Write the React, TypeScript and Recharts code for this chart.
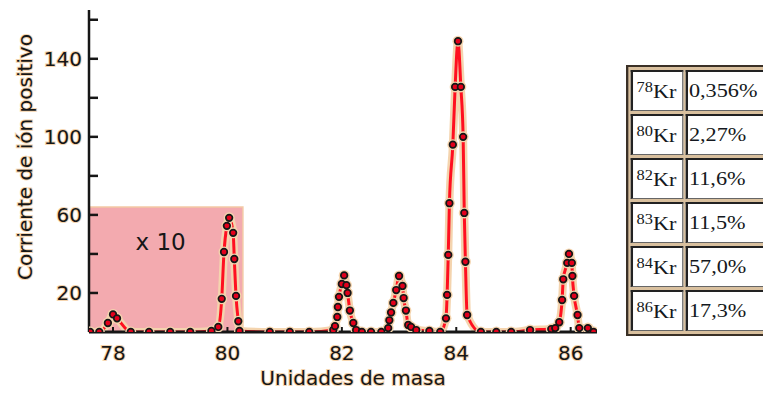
import React from "react";
import { LineChart, Line, XAxis, YAxis, ReferenceArea, Label } from "recharts";

// mass (u) and ion current
const MASS = [
  77.6, 77.76, 77.91, 78.0, 78.07, 78.31, 78.63, 79.0, 79.35, 79.72, 79.84, 79.9, 79.94, 79.99, 80.03,
  80.1, 80.12, 80.15, 80.19, 80.21, 80.74, 81.09, 81.43, 81.85, 81.88, 81.92, 81.93, 81.95, 82.0, 82.04,
  82.08, 82.1, 82.14, 82.2, 82.25, 82.35, 82.51, 82.69, 82.81, 82.83, 82.86, 82.9, 82.95, 83.0, 83.06,
  83.08, 83.12, 83.16, 83.21, 83.3, 83.53, 83.72, 83.82, 83.84, 83.86, 83.88, 83.94, 83.98, 84.03, 84.08,
  84.12, 84.14, 84.16, 84.19, 84.43, 84.7, 84.96, 85.29, 85.66, 85.73, 85.8, 85.85, 85.87, 85.94, 85.97,
  86.02, 86.03, 86.06, 86.12, 86.15, 86.3, 86.4,
];
const CURRENT = [
  0, 0, 4.6, 9, 7, 0, 0, 0, 0, 0.5, 2.6, 17, 41, 54.4, 58.5,
  50.8, 37.4, 18.5, 5.5, 0.5, 0, 0, 0, 1, 3, 7.7, 12.8, 18, 24.6, 29,
  24, 20, 11, 4.6, 1, 0, 0, 0, 2, 6, 10, 14.9, 21.5, 28.7, 23.6,
  17.4, 11, 3.6, 2.6, 1, 0.5, 0, 7, 19, 39.5, 66, 96, 125.6, 149, 125.6,
  100, 61, 36, 8.7, 0, 0, 0, 1, 1.5, 2, 5, 16.4, 27, 35.4, 40,
  35.4, 28.7, 18.5, 8.7, 2, 2, 0,
];

const X_TICKS = [78, 80, 82, 84, 86];
const Y_TICKS = [20, 40, 60, 80, 100, 120, 140, 160];
const Y_LABELED = [20, 60, 100, 140];

// region shown magnified x10
const ZOOM_FROM = 77.58;
const ZOOM_TO = 80.27;
const ZOOM_TOP = 64;

const ISOTOPES = ["78", "80", "82", "83", "84", "86"];
const ABUNDANCE = ["0,356%", "2,27%", "11,6%", "11,5%", "57,0%", "17,3%"];

const data = MASS.map((m, i) => ({ mass: m, current: CURRENT[i] }));

const SANS = '"DejaVu Sans", sans-serif';
const GLOW = "#f4d4ae";
const INK = "#161616";

const YTick = (props: any) => {
  const { x, y, payload } = props;
  return (
    <g>
      <line x1={x + 7} x2={x + 16} y1={y} y2={y} stroke={INK} strokeWidth={2.5} />
      {Y_LABELED.includes(payload.value) && (
        <text
          x={x}
          y={y}
          textAnchor="end"
          dominantBaseline="central"
          fontFamily={SANS}
          fontSize={20}
          fill={INK}
          stroke={GLOW}
          strokeWidth={2}
          paintOrder="stroke"
        >
          {payload.value}
        </text>
      )}
    </g>
  );
};

const XTick = (props: any) => {
  const { x, y, payload } = props;
  return (
    <g>
      <line x1={x} x2={x} y1={y - 13} y2={y - 18} stroke={INK} strokeWidth={2} />
      <text
        x={x}
        y={y}
        dy="0.73em"
        textAnchor="middle"
        fontFamily={SANS}
        fontSize={20}
        fill={INK}
        stroke={GLOW}
        strokeWidth={2}
        paintOrder="stroke"
      >
        {payload.value}
      </text>
    </g>
  );
};

const cellBase: React.CSSProperties = {
  background: "#fff",
  borderTop: "2px solid #222",
  borderLeft: "2px solid #222",
  borderRight: "1px solid #666",
  borderBottom: "1px solid #666",
  height: 41,
  boxSizing: "border-box",
  padding: "0 2px",
  whiteSpace: "nowrap",
  verticalAlign: "middle",
  color: "#141820",
};

export default function App() {
  return (
    <div
      style={{
        position: "absolute",
        left: 0,
        top: 0,
        width: 763,
        height: 394,
        overflow: "hidden",
        background: "#fff",
      }}
    >
      <LineChart width={600} height={394} data={data} margin={{ top: 10, right: 3, bottom: 0, left: 0 }}>
        <ReferenceArea
          x1={ZOOM_FROM}
          x2={ZOOM_TO}
          y1={0}
          y2={ZOOM_TOP}
          fill="#f3aaaf"
          fillOpacity={1}
          stroke="#f3c9a5"
          strokeWidth={1.5}
          label={
            <Label
              content={({ viewBox }: any) => (
                <text
                  x={viewBox.x + viewBox.width * 0.465}
                  y={viewBox.y + 35}
                  textAnchor="middle"
                  dominantBaseline="central"
                  fontFamily={SANS}
                  fontSize={23}
                  fill={INK}
                >
                  x 10
                </text>
              )}
            />
          }
        />
        <XAxis
          dataKey="mass"
          type="number"
          domain={[77.58, 86.46]}
          ticks={X_TICKS}
          allowDataOverflow
          height={62}
          tickSize={0}
          tickMargin={13}
          tick={<XTick />}
          axisLine={{ stroke: INK, strokeWidth: 3 }}
          label={
            <Label
              content={({ viewBox }: any) => (
                <text
                  x={viewBox.x + viewBox.width / 2 + 10}
                  y={385}
                  textAnchor="middle"
                  fontFamily={SANS}
                  fontSize={20}
                  fill={INK}
                  stroke={GLOW}
                  strokeWidth={2}
                  paintOrder="stroke"
                >
                  Unidades de masa
                </text>
              )}
            />
          }
        />
        <YAxis
          type="number"
          domain={[0, 165]}
          ticks={Y_TICKS}
          allowDataOverflow
          width={89}
          tickSize={0}
          tickMargin={7}
          tick={<YTick />}
          axisLine={{ stroke: INK, strokeWidth: 2.5 }}
          label={
            <Label
              content={() => (
                <text
                  x={25}
                  y={157}
                  transform="rotate(-90, 25, 157)"
                  textAnchor="middle"
                  dominantBaseline="central"
                  fontFamily={SANS}
                  fontSize={20}
                  fill={INK}
                  stroke={GLOW}
                  strokeWidth={2}
                  paintOrder="stroke"
                >
                  Corriente de ión positivo
                </text>
              )}
            />
          }
        />
        <Line
          dataKey="current"
          type="monotone"
          stroke={GLOW}
          strokeWidth={8}
          dot={{ r: 5.5, fill: GLOW, stroke: "none" }}
          activeDot={false}
          isAnimationActive={false}
        />
        <Line
          dataKey="current"
          type="monotone"
          stroke="#ff1020"
          strokeWidth={3}
          dot={{ r: 3.3, fill: "#e3001b", stroke: INK, strokeWidth: 1.7 }}
          activeDot={false}
          isAnimationActive={false}
        />
      </LineChart>

      <div style={{ position: "absolute", left: 626, top: 65, transform: "scaleX(1.17)", transformOrigin: "0 0" }}>
        <table
          style={{
            borderCollapse: "separate",
            borderSpacing: "2px 3px",
            background: "#d9c09e",
            border: "2px solid #3a3026",
            fontFamily: '"Liberation Serif", serif',
            fontSize: 19,
          }}
        >
          <tbody>
            {ISOTOPES.map((iso, i) => (
              <tr key={iso}>
                <td style={{ ...cellBase, width: 46, paddingLeft: 3 }}>
                  <span style={{ fontSize: 14, verticalAlign: "6px" }}>{iso}</span>
                  Kr
                </td>
                <td style={{ ...cellBase, width: 90, paddingLeft: 1 }}>{ABUNDANCE[i]}</td>
              </tr>
            ))}
          </tbody>
        </table>
      </div>
    </div>
  );
}
